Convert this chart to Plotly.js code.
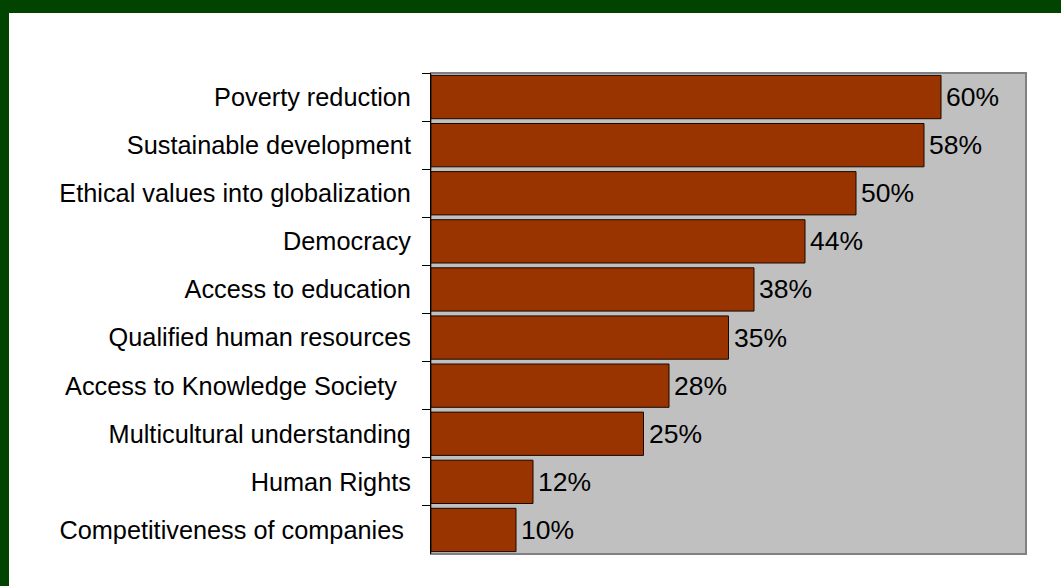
<!DOCTYPE html>
<html>
<head>
<meta charset="utf-8">
<script src="https://cdn.plot.ly/plotly-3.0.1.min.js"></script>
<style>
html, body { margin: 0; padding: 0; background: #004400; width: 1061px; height: 586px; overflow: hidden; }
#chart { position: absolute; left: 9px; top: 13px; width: 1052px; height: 573px; background: #ffffff; }
</style>
</head>
<body>
<div id="chart"></div>
<script>
const categories = [
  "Poverty reduction",
  "Sustainable development",
  "Ethical values into globalization",
  "Democracy",
  "Access to education",
  "Qualified human resources",
  "Access to Knowledge Society  ",
  "Multicultural understanding",
  "Human Rights",
  "Competitiveness of companies "
];
const values = [60, 58, 50, 44, 38, 35, 28, 25, 12, 10];
const valueLabels = values.map(v => v + "%");

const FONT = "Liberation Sans, Arial, sans-serif";

const trace = {
  type: "bar",
  orientation: "h",
  y: categories,
  x: values,
  marker: { color: "#993300", line: { color: "#1a0800", width: 1 } },
  hoverinfo: "none"
};

const annotations = values.map((v, i) => ({
  x: v, y: categories[i], xref: "x", yref: "y",
  text: valueLabels[i],
  showarrow: false,
  xanchor: "left",
  yanchor: "middle",
  xshift: 3,
  font: { family: FONT, size: 26.5, color: "#000000" }
}));

const layout = {
  width: 1052,
  height: 573,
  margin: { l: 422, r: 35, t: 60, b: 32, pad: 0 },
  paper_bgcolor: "#ffffff",
  plot_bgcolor: "#c0c0c0",
  bargap: 0.1,
  showlegend: false,
  font: { family: FONT, size: 25.3, color: "#000000" },
  xaxis: {
    range: [0, 70],
    showgrid: false,
    zeroline: false,
    showticklabels: false,
    ticks: "",
    showline: false,
    fixedrange: true
  },
  yaxis: {
    type: "category",
    autorange: "reversed",
    showgrid: false,
    zeroline: false,
    showline: true,
    linecolor: "#000000",
    linewidth: 1,
    ticks: "outside",
    tickson: "boundaries",
    ticklen: 8,
    tickcolor: "#000000",
    tickwidth: 1,
    ticklabelstandoff: 14,
    tickfont: { family: FONT, size: 25.3, color: "#000000" },
    fixedrange: true
  },
  annotations: annotations,
  shapes: [{
    type: "rect", xref: "paper", yref: "paper",
    x0: 0, x1: 1, y0: 0, y1: 1,
    line: { color: "#808080", width: 2 },
    layer: "below"
  }]
};

Plotly.newPlot("chart", [trace], layout, { displayModeBar: false, staticPlot: true });
</script>
</body>
</html>
